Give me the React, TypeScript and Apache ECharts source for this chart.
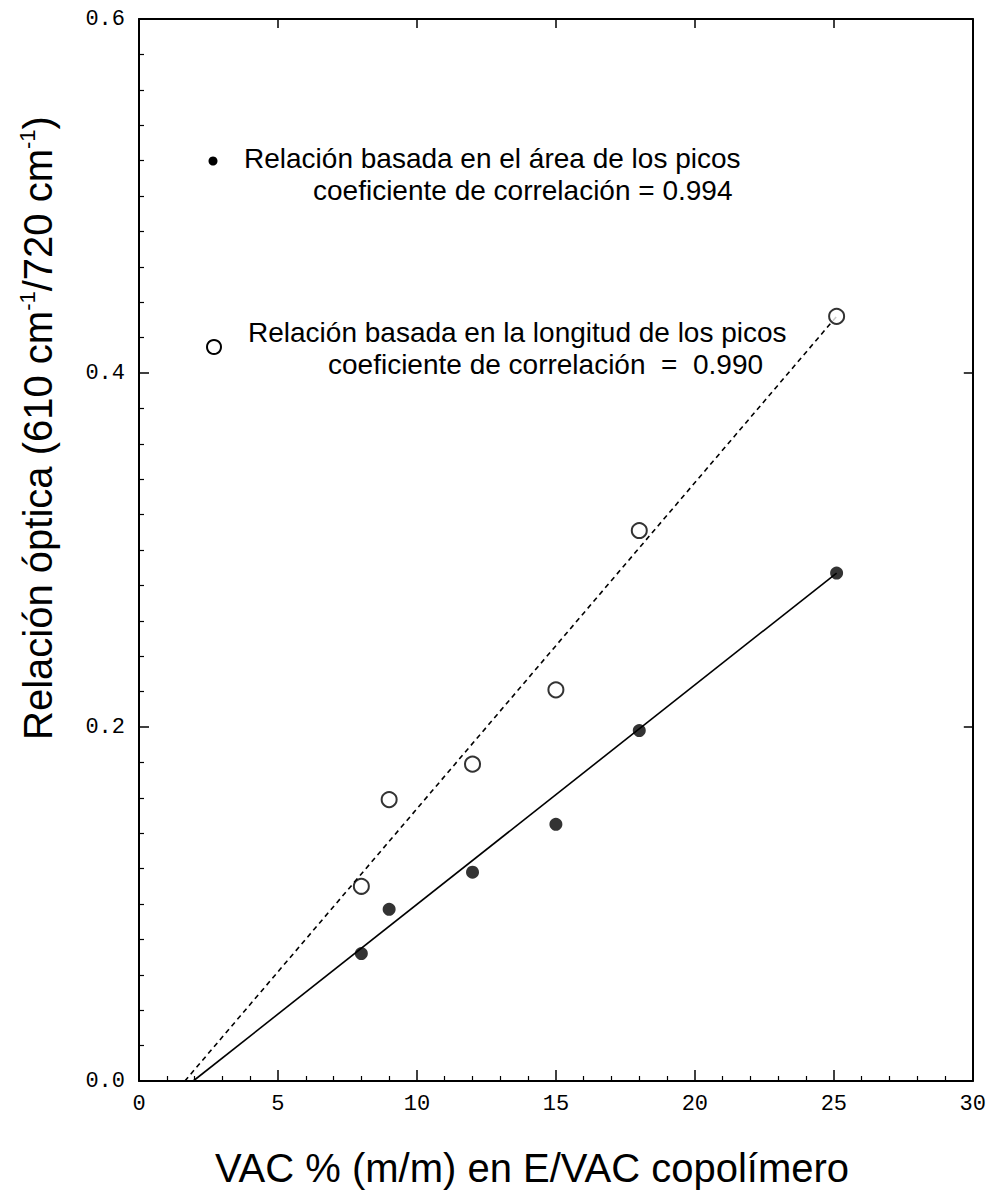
import React, { useEffect, useRef } from 'react';
import * as echarts from 'echarts';

// VAC % (m/m) of the samples
const vacPercent = [8.0, 9.0, 12.0, 15.0, 18.0, 25.1];
// optical ratio based on peak area (filled dots)
const areaRatio = [0.072, 0.097, 0.118, 0.145, 0.198, 0.287];
// optical ratio based on peak height (open circles)
const heightRatio = [0.11, 0.159, 0.179, 0.221, 0.311, 0.432];
// fitted lines, end points
const areaFitLine = [[1.95, 0], [25.1, 0.287]];
const heightFitLine = [[1.65, 0], [25.1, 0.432]];
// axis ranges / ticks
const xRange = [0, 30];
const xStep = 5;
const yRange = [0, 0.6];
const yStep = 0.2;

const legendArea = ['Relación basada en el área de los picos', 'coeficiente de correlación = 0.994'];
const legendHeight = ['Relación basada en la longitud de los picos', 'coeficiente de correlación  =  0.990'];
const xTitle = 'VAC % (m/m) en E/VAC copolímero';
const yTitle = 'Relación óptica (610 cm{sup|-1}/720 cm{sup|-1})';

const labelFont = 'Liberation Mono, DejaVu Sans Mono, monospace';
const sansFont = 'Liberation Sans, Arial, sans-serif';

export default function App() {
  const ref = useRef<HTMLDivElement>(null);
  useEffect(() => {
    if (!ref.current) return;
    const chart = echarts.init(ref.current, null, { renderer: 'svg' });
    const axisLine = { onZero: false, lineStyle: { color: '#000', width: 2 } };
    const mkX = (pos: 'bottom' | 'top') => ({
      type: 'value',
      position: pos,
      min: xRange[0],
      max: xRange[1],
      interval: xStep,
      axisLine,
      axisTick: { show: true, inside: true, length: pos === 'bottom' ? 11 : 9, lineStyle: { color: '#000', width: 1.5 } },
      minorTick: { show: pos === 'bottom', splitNumber: 5, length: 5, lineStyle: { color: '#000', width: 1.2 } },
      axisLabel: {
        show: pos === 'bottom',
        margin: 12,
        fontFamily: labelFont,
        fontSize: 22,
        color: '#000',
      },
      splitLine: { show: false },
    });
    const mkY = (pos: 'left' | 'right') => ({
      type: 'value',
      position: pos,
      min: yRange[0],
      max: yRange[1],
      interval: yStep,
      axisLine,
      axisTick: { show: true, inside: true, length: pos === 'left' ? 10 : 9, lineStyle: { color: '#000', width: 1.5 } },
      minorTick: { show: pos === 'left', splitNumber: 10, length: 5, lineStyle: { color: '#000', width: 1.2 } },
      axisLabel: {
        show: pos === 'left',
        margin: 14,
        fontFamily: labelFont,
        fontSize: 22,
        color: '#000',
        formatter: (v: number) => v.toFixed(1),
      },
      splitLine: { show: false },
    });

    const legendFont = `28px ${sansFont}`;
    chart.setOption({
      animation: false,
      backgroundColor: '#fff',
      grid: { left: 131, top: 11, width: 838, height: 1062, containLabel: false },
      xAxis: [mkX('bottom'), mkX('top')],
      yAxis: [mkY('left'), mkY('right')],
      series: [
        {
          type: 'line',
          data: areaFitLine,
          showSymbol: false,
          symbol: 'none',
          lineStyle: { color: '#000', width: 1.6, type: 'solid' },
          z: 2,
        },
        {
          type: 'line',
          data: heightFitLine,
          showSymbol: false,
          symbol: 'none',
          lineStyle: { color: '#000', width: 1.6, type: [5, 4] },
          z: 2,
        },
        {
          type: 'scatter',
          data: vacPercent.map((x, i) => [x, areaRatio[i]]),
          symbol: 'circle',
          symbolSize: 13,
          itemStyle: { color: '#000' },
          z: 3,
        },
        {
          type: 'scatter',
          data: vacPercent.map((x, i) => [x, heightRatio[i]]),
          symbol: 'circle',
          symbolSize: 15,
          itemStyle: { color: '#fff', borderColor: '#000', borderWidth: 2 },
          z: 3,
        },
      ],
      graphic: [
        { type: 'circle', shape: { cx: 205, cy: 153, r: 4.5 }, style: { fill: '#000' } },
        {
          type: 'text', x: 236, y: 150,
          style: { text: legendArea[0], font: legendFont, fill: '#000', align: 'left', verticalAlign: 'middle' },
        },
        {
          type: 'text', x: 305, y: 182,
          style: { text: legendArea[1], font: legendFont, fill: '#000', align: 'left', verticalAlign: 'middle' },
        },
        { type: 'circle', shape: { cx: 206, cy: 339, r: 7 }, style: { fill: '#fff', stroke: '#000', lineWidth: 2 } },
        {
          type: 'text', x: 240, y: 324,
          style: { text: legendHeight[0], font: legendFont, fill: '#000', align: 'left', verticalAlign: 'middle' },
        },
        {
          type: 'text', x: 320, y: 356,
          style: { text: legendHeight[1], font: legendFont, fill: '#000', align: 'left', verticalAlign: 'middle' },
        },
        {
          type: 'text', x: 524, y: 1160,
          style: { text: xTitle, font: `40px ${sansFont}`, fill: '#000', align: 'center', verticalAlign: 'middle' },
        },
        {
          type: 'text', x: 30, y: 420, rotation: Math.PI / 2,
          style: {
            text: yTitle,
            fontFamily: sansFont,
            fontSize: 40,
            lineHeight: 44,
            fill: '#000',
            align: 'center',
            verticalAlign: 'middle',
            rich: {
              sup: { fontFamily: sansFont, fontSize: 22, verticalAlign: 'top', lineHeight: 22, fill: '#000' },
            },
          },
        },
      ],
    });
    return () => chart.dispose();
  }, []);
  return <div ref={ref} style={{ width: 981, height: 1183 }} />;
}
